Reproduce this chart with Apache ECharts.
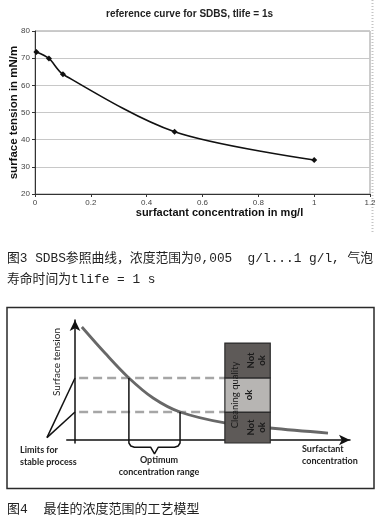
<!DOCTYPE html>
<html><head><meta charset="utf-8">
<script src="https://cdn.jsdelivr.net/npm/echarts@6/dist/echarts.min.js"></script>
<style>html,body{margin:0;padding:0;background:#fff}#c{width:379px;height:522px}</style>
</head><body><div id="c"></div>
<script>
// ---- Figure 3: reference curve ----
const refConc = [0.005, 0.05, 0.1, 0.5, 1.0];
const refTension = [72.3, 69.9, 64.1, 42.9, 32.5];
const refXRange = [0, 1.2, 0.2];
const refYRange = [20, 80, 10];

// ---- Figure 4: process model (abstract units) ----
const modelConc = [0.25, 1.09, 1.96, 2.84, 3.82, 5.45, 7.09, 9.2];
const modelTension = [9.42, 7.25, 5.17, 3.5, 2.33, 1.42, 1.0, 0.58];
const limitLevels = [5.17, 2.33];
const optimumRange = [1.96, 3.82];
const limitOrigin = [-1.02, 0.2];
const qualityBox = [5.45, 7.1];
const qualityFrom = [-0.25, 2.33, 5.17];
const qualityTo = [2.33, 5.17, 8.08];
const qualityLabels = ['Not\nok', 'ok', 'Not\nok'];
const qualityColors = ['#5e5a58', '#b7b5b3', '#5e5a58'];
const qualityLabelX = [6.58, 6.33, 6.58];

const chart = echarts.init(document.getElementById('c'));
const dashLine = (lvl) => [[0.15, lvl], [qualityBox[0], lvl]];
const braceY = -0.6, braceTip = -1.15;
const mid = (optimumRange[0] + optimumRange[1]) / 2;
const braceData = [
  [optimumRange[0], limitLevels[0]], [optimumRange[0], -0.25], [optimumRange[0] + 0.07, -0.5],
  [optimumRange[0] + 0.2, braceY], [mid - 0.14, braceY], [mid, braceTip], [mid + 0.14, braceY],
  [optimumRange[1] - 0.2, braceY], [optimumRange[1] - 0.07, -0.5], [optimumRange[1], -0.25],
  [optimumRange[1], limitLevels[1]]
];
const sans = 'Lato, "DejaVu Sans", sans-serif';
const cap = '"Liberation Mono", "Noto Sans CJK SC", monospace';

chart.setOption({
  animation: false,
  title: {text: 'reference curve for SDBS, tlife = 1s', left: 101, top: 4,
    textStyle: {fontSize: 10, fontWeight: 'bold', color: '#222', fontFamily: 'Liberation Sans, Arial'}},
  grid: [
    {left: 35, right: 9, top: 31, bottom: 328, show: true, borderColor: '#999', borderWidth: 1, outerBoundsMode: 'none', containLabel: false},
    {left: 66.75, right: 29, top: 320, bottom: 79, outerBoundsMode: 'none', containLabel: false}
  ],
  xAxis: [
    {gridIndex: 0, type: 'value', min: refXRange[0], max: refXRange[1], interval: refXRange[2],
      name: 'surfactant concentration in mg/l', nameLocation: 'middle', nameGap: 11,
      nameTextStyle: {fontSize: 11, fontWeight: 'bold', color: '#111', fontFamily: 'Liberation Sans, Arial', padding: [0, 0, 0, 34]},
      axisLine: {lineStyle: {color: '#333', width: 1}}, axisTick: {length: 3, lineStyle: {color: '#333'}},
      axisLabel: {fontSize: 8, color: '#444', margin: 5, fontFamily: 'Liberation Sans, Arial'}, splitLine: {show: false}},
    {gridIndex: 1, type: 'value', min: -0.3, max: 10,
      axisLine: {onZero: true, symbol: ['none', 'arrow'], symbolSize: [8, 11], lineStyle: {color: '#111', width: 1.5}},
      axisTick: {show: false}, axisLabel: {show: false}, splitLine: {show: false}}
  ],
  yAxis: [
    {gridIndex: 0, type: 'value', min: refYRange[0], max: refYRange[1], interval: refYRange[2],
      name: 'surface tension in mN/m', nameLocation: 'middle', nameGap: 15, nameMoveOverlap: false,
      nameTextStyle: {fontSize: 11.5, fontWeight: 'bold', color: '#111', fontFamily: 'Liberation Sans, Arial'},
      axisLine: {show: true, lineStyle: {color: '#333', width: 1}}, axisTick: {show: true, length: 3, lineStyle: {color: '#333'}},
      axisLabel: {fontSize: 8, color: '#444', margin: 5, fontFamily: 'Liberation Sans, Arial'},
      splitLine: {lineStyle: {color: '#c8c8c8'}}},
    {gridIndex: 1, type: 'value', min: -0.25, max: 10,
      axisLine: {onZero: true, symbol: ['none', 'arrow'], symbolSize: [8, 11], lineStyle: {color: '#111', width: 1.5}},
      axisTick: {show: false}, axisLabel: {show: false}, splitLine: {show: false}}
  ],
  series: [
    {type: 'line', xAxisIndex: 0, yAxisIndex: 0, data: refConc.map((c, i) => [c, refTension[i]]),
      smooth: 0.3, symbol: 'diamond', symbolSize: 6, lineStyle: {color: '#111', width: 1.6}, itemStyle: {color: '#111'}},
    {type: 'line', xAxisIndex: 1, yAxisIndex: 1, data: modelConc.map((c, i) => [c, modelTension[i]]),
      smooth: 0.35, symbol: 'none', lineStyle: {color: '#686868', width: 2.8}, z: 2},
    ...limitLevels.map(l => ({type: 'line', xAxisIndex: 1, yAxisIndex: 1, data: dashLine(l), symbol: 'none',
      lineStyle: {color: '#a6a6a6', width: 2.5, type: [9, 5]}, z: 1})),
    {type: 'line', xAxisIndex: 1, yAxisIndex: 1, data: braceData, symbol: 'none', clip: false,
      lineStyle: {color: '#111', width: 1.5}, z: 3},
    {type: 'custom', xAxisIndex: 1, yAxisIndex: 1, clip: false, z: 3,
      data: limitLevels.map(l => [l]),
      renderItem: (params, api) => {
        const a = api.coord(limitOrigin);
        const b = api.coord([0, api.value(0)]);
        return {type: 'line', shape: {x1: a[0], y1: a[1], x2: b[0], y2: b[1]}, style: {stroke: '#111', lineWidth: 1.5}};
      }},
    {type: 'custom', xAxisIndex: 1, yAxisIndex: 1, clip: false, z: 5,
      data: [0, 1, 2, 3].map(i => [i]),
      renderItem: (params, api) => {
        const i = api.value(0);
        if (i === 3) {
          const p = api.coord([5.82, 3.75]);
          return {type: 'text', x: p[0], y: p[1], rotation: Math.PI / 2,
            style: {text: 'Cleaning quality', fontSize: 9.5, fill: '#1a1a1a', align: 'center', verticalAlign: 'middle', fontFamily: sans}};
        }
        const p1 = api.coord([qualityBox[0], qualityTo[i]]);
        const p2 = api.coord([qualityBox[1], qualityFrom[i]]);
        const lc = api.coord([qualityLabelX[i], (qualityFrom[i] + qualityTo[i]) / 2]);
        return {type: 'group', children: [
          {type: 'rect', shape: {x: p1[0], y: p1[1], width: p2[0] - p1[0], height: p2[1] - p1[1]},
            style: {fill: qualityColors[i], stroke: '#2a2a2a', lineWidth: 1.2}},
          {type: 'text', x: lc[0], y: lc[1], rotation: Math.PI / 2,
            style: {text: qualityLabels[i], fontSize: 9.5, fontWeight: 'bold', lineHeight: 11, fill: '#1a1a1a', align: 'center', verticalAlign: 'middle', fontFamily: sans}}
        ]};
      }}
  ],
  graphic: [
    {type: 'line', shape: {x1: 372.5, y1: 0, x2: 372.5, y2: 232}, style: {stroke: '#c4c4c4', lineWidth: 2, lineDash: [1, 2]}},
    {type: 'text', x: 7, y: 259, style: {text: '图3 SDBS参照曲线，浓度范围为0,005  g/l...1 g/l, 气泡', fontSize: 12.8, fill: '#222', fontFamily: cap, verticalAlign: 'middle'}},
    {type: 'text', x: 7, y: 280, style: {text: '寿命时间为tlife = 1 s', fontSize: 12.8, fill: '#222', fontFamily: cap, verticalAlign: 'middle'}},
    {type: 'rect', shape: {x: 7, y: 307.5, width: 367, height: 181}, style: {fill: 'none', stroke: '#2a2a2a', lineWidth: 1.5}},
    {type: 'text', x: 57, y: 362, rotation: Math.PI / 2, style: {text: 'Surface tension', fontSize: 10, fill: '#222', fontFamily: sans, align: 'center', verticalAlign: 'middle'}},
    {type: 'text', x: 20, y: 450, style: {text: 'Limits for', fontSize: 9, fontWeight: 'bold', fill: '#222', fontFamily: sans, verticalAlign: 'middle'}},
    {type: 'text', x: 20, y: 462, style: {text: 'stable process', fontSize: 9, fontWeight: 'bold', fill: '#222', fontFamily: sans, verticalAlign: 'middle'}},
    {type: 'text', x: 159, y: 460, style: {text: 'Optimum', fontSize: 9, fontWeight: 'bold', fill: '#222', fontFamily: sans, align: 'center', verticalAlign: 'middle'}},
    {type: 'text', x: 159, y: 472, style: {text: 'concentration range', fontSize: 9, fontWeight: 'bold', fill: '#222', fontFamily: sans, align: 'center', verticalAlign: 'middle'}},
    {type: 'text', x: 302, y: 449, style: {text: 'Surfactant', fontSize: 9, fontWeight: 'bold', fill: '#222', fontFamily: sans, verticalAlign: 'middle'}},
    {type: 'text', x: 302, y: 461, style: {text: 'concentration', fontSize: 9, fontWeight: 'bold', fill: '#222', fontFamily: sans, verticalAlign: 'middle'}},
    {type: 'text', x: 7, y: 510, style: {text: '图4  最佳的浓度范围的工艺模型', fontSize: 13, fill: '#222', fontFamily: cap, verticalAlign: 'middle'}}
  ]
});
</script></body></html>
